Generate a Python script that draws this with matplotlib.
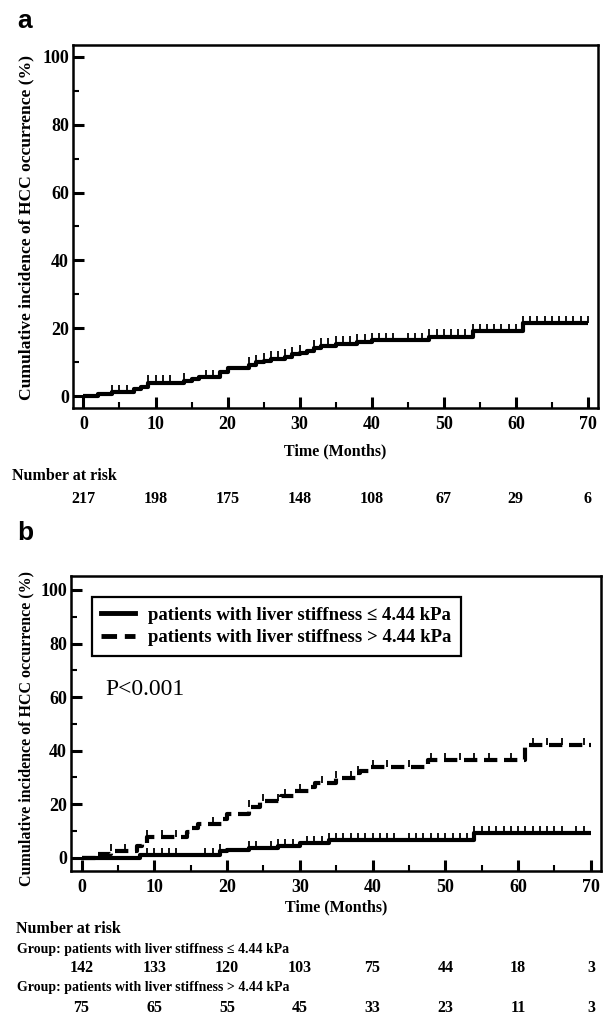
import numpy as np
import matplotlib
matplotlib.use("Agg")
import matplotlib.pyplot as plt
import matplotlib.transforms as mtransforms
from matplotlib.ticker import MultipleLocator
from matplotlib.lines import Line2D

# ------------------------------------------------------------
# data (months, cumulative incidence %)
# ------------------------------------------------------------
all_t = [0, 2, 4, 7, 8, 9, 14, 15, 16, 19, 20, 23, 24, 25, 26, 28, 29, 30,
         31, 32, 33, 35, 38, 40, 48, 54, 61]
all_y = [0, 0.7, 1.2, 2.0, 2.8, 4.0, 4.6, 5.0, 5.5, 7.0, 8.2, 9.3, 10.0, 10.5,
         11.0, 11.6, 12.3, 12.8, 13.4, 14.3, 14.8, 15.5, 16.0, 16.5, 17.5,
         19.2, 21.5]
all_cens = [4, 5, 6, 9, 10, 11, 12, 14, 17, 18, 23, 24, 25, 26, 27, 28, 29, 30,
            32, 33, 34, 35, 36, 37, 38, 39, 40, 41, 42, 43, 45, 46, 47, 48, 49,
            50, 51, 52, 53, 54, 55, 56, 57, 58, 59, 60, 61, 62, 63, 64, 65, 66,
            67, 68, 69, 70]
all_risk = [217, 198, 175, 148, 108, 67, 29, 6]

low_t = [0, 8, 19, 20, 23, 27, 30, 34, 54]
low_y = [0, 1.2, 2.4, 3.0, 3.7, 4.6, 5.5, 6.8, 9.4]
low_cens = [9, 10, 11, 12, 13, 17, 18, 19, 23, 24, 26, 27, 28, 29, 31, 32, 33,
            34, 35, 36, 37, 38, 39, 40, 41, 42, 43, 45, 46, 47, 48, 49, 50, 51,
            52, 53, 54, 55, 56, 57, 58, 59, 60, 61, 62, 63, 64, 65, 66, 68, 69]
low_risk = [142, 133, 120, 103, 75, 44, 18, 3]

high_t = [0, 2, 4, 7.6, 8.3, 9, 14.5, 15.2, 16, 19.3, 20, 23, 24.5, 27.4,
          29.3, 31.2, 32.1, 35, 37.9, 38.3, 39.8, 47.6, 61]
high_y = [0, 1.4, 2.4, 4.6, 5.5, 7.9, 9.8, 11.2, 12.8, 14.6, 16.5, 18.9, 21.3,
          23.2, 24.8, 26.5, 28.0, 29.9, 31.7, 32.3, 34.1, 36.6, 42.3]
high_cens = [4, 6, 9, 11, 13, 18, 23, 25, 27, 28, 30, 33, 35, 37, 38, 40, 42,
             45, 48, 50, 52, 54, 56, 59, 62, 64, 66, 69]
high_risk = [75, 65, 55, 45, 33, 23, 11, 3]

risk_times = [0, 10, 20, 30, 40, 50, 60, 70]
t_end = 70

SERIF = "Liberation Serif"
SANS = "Liberation Sans"
plt.rcParams["font.family"] = [SERIF, "DejaVu Sans"]
plt.rcParams["font.weight"] = "bold"

W, H = 606.0, 1019.0
DASH = (0, (3.2, 1.6))


def step_value(t_arr, y_arr, t):
    idx = np.searchsorted(t_arr, t, side="right") - 1
    return np.asarray(y_arr)[idx]


def km_curve(ax, t, y, cens, ls, tick_h):
    t = np.asarray(t, float)
    y = np.asarray(y, float)
    tt = np.append(t, t_end)
    yy = np.append(y, y[-1])
    ax.step(tt, yy, where="post", color="black", lw=3.0, ls=ls,
            solid_capstyle="butt", dash_capstyle="butt", zorder=3)
    c = np.asarray(cens, float)
    cy = step_value(t, y, c)
    ax.vlines(c, cy, cy + tick_h, color="black", lw=1.3, zorder=3)


def style_axes(ax, ylim):
    ax.set_xlim(-1.45, 71.4)
    ax.set_ylim(*ylim)
    ax.xaxis.set_major_locator(MultipleLocator(10))
    ax.xaxis.set_minor_locator(MultipleLocator(5))
    ax.yaxis.set_major_locator(MultipleLocator(20))
    ax.yaxis.set_minor_locator(MultipleLocator(10))
    ax.tick_params(which="major", direction="in", length=8, width=2.2,
                   labelsize=13, pad=3, top=False, right=False)
    ax.tick_params(axis="x", which="major", pad=6)
    ax.tick_params(which="minor", direction="in", length=4.5, width=1.5,
                   top=False, right=False)
    for s in ax.spines.values():
        s.set_linewidth(1.8)
    for lab in ax.get_xticklabels() + ax.get_yticklabels():
        lab.set_fontweight("bold")


def fy(px):
    # figure fraction from pixel row (top = 0)
    return 1 - px / H


fig = plt.figure(figsize=(6.06, 10.19), dpi=100)

# ---------------- panel a ----------------
ax1 = fig.add_axes([73 / W, fy(408), (598 - 73) / W, (408 - 45) / H])
km_curve(ax1, all_t, all_y, all_cens, "-", 2.2)
style_axes(ax1, (-3.5, 103.5))
blend1 = mtransforms.blended_transform_factory(ax1.transData, fig.transFigure)
ax1.text(35, fy(451), "Time (Months)", transform=blend1, fontsize=11.5,
         ha="center", va="center")
fig.text(26 / W, fy(228), "Cumulative incidence of HCC occurrence (%)",
         rotation=90, ha="center", va="center", fontsize=12.6)
fig.text(17 / W, fy(21), "a", family=SANS, fontsize=19, va="center", ha="left")

fig.text(12 / W, fy(476), "Number at risk", fontsize=11.5, va="center")
for tx, n in zip(risk_times, all_risk):
    ax1.text(tx, fy(499), str(n), transform=blend1, fontsize=11.5,
             ha="center", va="center")

# ---------------- panel b ----------------
ax2 = fig.add_axes([71 / W, fy(871), (601 - 71) / W, (871 - 576) / H])
km_curve(ax2, low_t, low_y, low_cens, "-", 2.6)
km_curve(ax2, high_t, high_y, high_cens, DASH, 2.6)
style_axes(ax2, (-4.9, 105.2))
blend2 = mtransforms.blended_transform_factory(ax2.transData, fig.transFigure)
ax2.text(35, fy(907), "Time (Months)", transform=blend2, fontsize=11.5,
         ha="center", va="center")
fig.text(26 / W, fy(728), "Cumulative incidence of HCC occurrence (%)",
         rotation=90, ha="center", va="center", fontsize=11.5)
fig.text(17 / W, fy(533), "b", family=SANS, fontsize=19, va="center", ha="left")

handles = [Line2D([], [], color="black", lw=3.5),
           Line2D([], [], color="black", lw=3.5, ls=DASH)]
leg = ax2.legend(handles,
                 ["patients with liver stiffness \u2264 4.44 kPa",
                  "patients with liver stiffness > 4.44 kPa"],
                 loc="upper left",
                 bbox_to_anchor=((92 - 71) / 530, (871 - 597) / 295),
                 prop={"family": SERIF, "weight": "bold", "size": 13.5},
                 frameon=True, fancybox=False, framealpha=1, handlelength=1.8,
                 borderpad=0.5, labelspacing=0.3, handletextpad=0.7,
                 borderaxespad=0)
leg.get_frame().set_edgecolor("black")
leg.get_frame().set_linewidth(1.6)
leg.set_zorder(5)

ax2.text(3.3, 62.7, "P<0.001", fontsize=17, fontweight="normal",
         ha="left", va="center")

fig.text(16 / W, fy(929), "Number at risk", fontsize=11.5, va="center")
fig.text(17 / W, fy(949), "Group: patients with liver stiffness \u2264 4.44 kPa",
         fontsize=10, va="center")
for tx, n in zip(risk_times, low_risk):
    ax2.text(tx, fy(968), str(n), transform=blend2, fontsize=11.5,
             ha="center", va="center")
fig.text(17 / W, fy(988), "Group: patients with liver stiffness > 4.44 kPa",
         fontsize=10, va="center")
for tx, n in zip(risk_times, high_risk):
    ax2.text(tx, fy(1008), str(n), transform=blend2, fontsize=11.5,
             ha="center", va="center")

fig.savefig("out.png", dpi=100)
plt.close(fig)
